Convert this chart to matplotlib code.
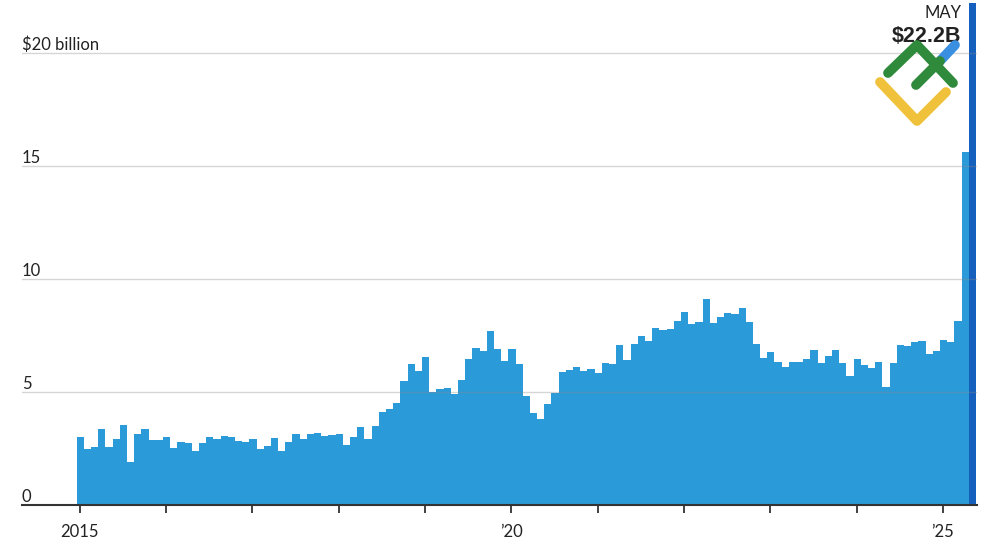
import numpy as np
import matplotlib
matplotlib.use("Agg")
import matplotlib.pyplot as plt
from matplotlib.lines import Line2D
from matplotlib.transforms import blended_transform_factory

plt.rcParams['font.family'] = ['Lato', 'DejaVu Sans']

# monthly values, Jan 2015 .. May 2025, in $ billions
values = [
    3.00, 2.46, 2.58, 3.36, 2.55, 2.92, 3.55, 1.89, 3.14, 3.36, 2.86, 2.86,   # 2015
    3.02, 2.54, 2.78, 2.74, 2.40, 2.73, 3.02, 2.92, 3.07, 3.02, 2.85, 2.80,   # 2016
    2.90, 2.46, 2.63, 2.98, 2.40, 2.80, 3.14, 2.93, 3.14, 3.20, 3.06, 3.10,   # 2017
    3.14, 2.64, 3.02, 3.43, 2.92, 3.50, 4.10, 4.24, 4.52, 5.49, 6.22, 5.93,   # 2018
    6.56, 5.01, 5.15, 5.19, 4.91, 5.53, 6.46, 6.96, 6.81, 7.70, 6.90, 6.39,   # 2019
    6.90, 6.22, 4.82, 4.06, 3.79, 4.46, 4.97, 5.87, 5.98, 6.10, 5.95, 6.00,   # 2020
    5.83, 6.27, 6.22, 7.08, 6.41, 7.14, 7.48, 7.27, 7.82, 7.73, 7.77, 8.16,   # 2021
    8.55, 8.01, 8.11, 9.12, 8.05, 8.33, 8.51, 8.45, 8.73, 8.11, 7.13, 6.52,   # 2022
    6.78, 6.33, 6.12, 6.33, 6.34, 6.45, 6.86, 6.28, 6.60, 6.86, 6.28, 5.72,   # 2023
    6.45, 6.18, 6.08, 6.34, 5.20, 6.28, 7.08, 7.04, 7.22, 7.27, 6.68, 6.80,   # 2024
    7.30, 7.20, 8.12, 15.63, 22.2,                                           # 2025
]
year_ticks = [2015, 2016, 2017, 2018, 2019, 2020, 2021, 2022, 2023, 2024, 2025]
year_labels = ['2015', '', '', '', '', '\u201920', '', '', '', '', '\u201925']
y_grid = [5, 10, 15, 20]
y_labels = ['5', '10', '15', '$20 billion']
last_month = 'MAY'
last_label = '$22.2B'

months = np.arange(len(values))
bar_color = '#2b9ad8'
last_color = '#1560bd'
colors = [bar_color] * (len(values) - 1) + [last_color]

fig = plt.figure(figsize=(10, 5.45), dpi=100)
ax = fig.add_axes([0.022, 40 / 545, 0.955, 504 / 545])

ax.bar(months, values, width=1.0, align='edge', color=colors, linewidth=0, zorder=2)

ax.set_xlim(-7.6, len(values) + 0.15)
ax.set_ylim(0, 22.3)

# gridlines drawn on top of the bars
for g in y_grid:
    ax.axhline(g, color='#888888', alpha=0.35, lw=1.0, zorder=3)

trans = blended_transform_factory(ax.transAxes, ax.transData)
for g, lab in zip([0] + y_grid, ['0'] + y_labels):
    ax.text(0.0, g + 0.15, lab, transform=trans, ha='left', va='baseline',
            fontsize=12, color='#222222', zorder=4)

for s in ['top', 'right', 'left']:
    ax.spines[s].set_visible(False)
ax.spines['bottom'].set_color('#333333')
ax.spines['bottom'].set_linewidth(1.5)
ax.spines['bottom'].set_zorder(5)

ax.set_yticks([])
ax.set_xticks([(y - 2015) * 12 + 0.4 for y in year_ticks])
ax.set_xticklabels(year_labels, fontsize=12, color='#222222')
ax.tick_params(axis='x', length=6, width=1.3, color='#333333', pad=8)

# annotation for the latest month
ax.text(len(values) - 2.0, 21.75, last_month, ha='right', va='center',
        fontsize=12, color='#222222')
ax.text(len(values) - 2.0, 20.75, last_label, ha='right', va='center',
        fontsize=15.5, fontweight='bold', color='#222222',
        family=['Liberation Sans', 'DejaVu Sans'])

# watermark logo (pixel coords of the reference)
def px(points):
    xs = [p[0] / 1000 for p in points]
    ys = [1 - p[1] / 545 for p in points]
    return xs, ys

logo = [
    ([(880, 82), (917, 121), (946, 92)], '#f0c23b'),
    ([(940, 61), (955, 45)], '#3b8fe0'),
    ([(888, 73), (917, 45), (953, 83)], '#2f8a3c'),
    ([(916, 85), (940, 61)], '#2f8a3c'),
]
for pts, col in logo:
    xs, ys = px(pts)
    fig.add_artist(Line2D(xs, ys, transform=fig.transFigure, color=col, lw=7,
                          solid_capstyle='round', solid_joinstyle='round', zorder=10))

fig.savefig('out.png', dpi=100)
